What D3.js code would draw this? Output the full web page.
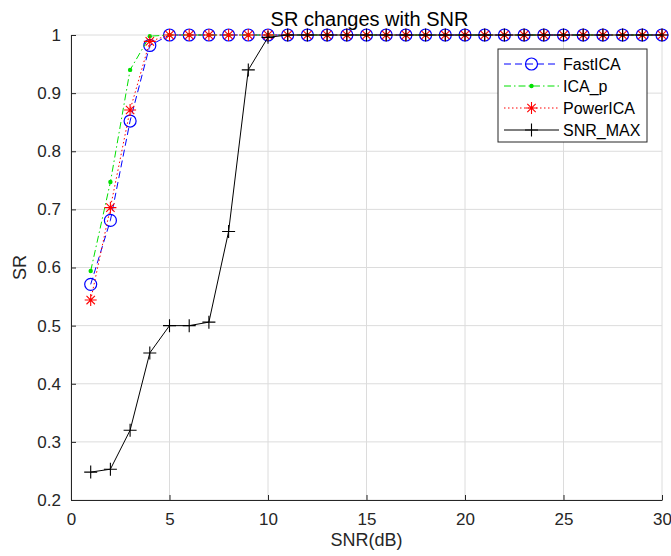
<!DOCTYPE html>
<html>
<head>
<meta charset="utf-8">
<title>SR changes with SNR</title>
<script src="https://d3js.org/d3.v7.min.js"></script>
<style>
  body { margin: 0; background: #fff; }
  svg { font-family: "Liberation Sans", Arial, sans-serif; }
</style>
</head>
<body>
<svg id="chart" width="671" height="556"></svg>
<script>
// data
const snr = d3.range(1, 31)
const fastICA = [0.571, 0.681, 0.852, 0.982].concat(d3.range(26).map(() => 1))
const icaP = [0.594, 0.747, 0.940, 0.998].concat(d3.range(26).map(() => 1))
const powerICA = [0.544, 0.703, 0.871, 0.989].concat(d3.range(26).map(() => 1))
const snrMax = [0.248, 0.253, 0.320, 0.453, 0.500, 0.500, 0.506, 0.662, 0.940, 0.996].concat(d3.range(20).map(() => 1))
const xTicks = [0, 5, 10, 15, 20, 25, 30]
const yTicks = [0.2, 0.3, 0.4, 0.5, 0.6, 0.7, 0.8, 0.9, 1]

const series = [
  { name: "FastICA", values: fastICA, color: "#0000ff", dash: "7,4", marker: "circle" },
  { name: "ICA_p", values: icaP, color: "#00e000", dash: "7,3,1.5,3", marker: "dot" },
  { name: "PowerICA", values: powerICA, color: "#ff0000", dash: "1.5,2.5", marker: "star" },
  { name: "SNR_MAX", values: snrMax, color: "#000000", dash: null, marker: "plus" }
]

const svg = d3.select("#chart")
const margin = { top: 35, left: 71, right: 9, bottom: 56 }
const width = +svg.attr("width") - margin.left - margin.right
const height = +svg.attr("height") - margin.top - margin.bottom
const axisColor = "#262626"

const x = d3.scaleLinear().domain([0, 30]).range([0, width])
const y = d3.scaleLinear().domain([0.2, 1]).range([height, 0])

const g = svg.append("g").attr("transform", `translate(${margin.left},${margin.top})`)

// grid
g.append("g").selectAll("line").data(xTicks).join("line")
  .attr("x1", d => x(d)).attr("x2", d => x(d))
  .attr("y1", 0).attr("y2", height)
  .attr("stroke", "#dcdcdc").attr("stroke-width", 1)
g.append("g").selectAll("line").data(yTicks).join("line")
  .attr("x1", 0).attr("x2", width)
  .attr("y1", d => y(d)).attr("y2", d => y(d))
  .attr("stroke", "#dcdcdc").attr("stroke-width", 1)

// axes (ticks inward)
const xAxis = d3.axisBottom(x).tickValues(xTicks).tickSizeInner(-5).tickSizeOuter(0).tickPadding(13)
const yAxis = d3.axisLeft(y).tickValues(yTicks).tickSizeInner(-5).tickSizeOuter(0).tickPadding(10)
  .tickFormat(d => d === 1 ? "1" : d3.format(".1f")(d))

const gx = g.append("g").attr("transform", `translate(0,${height})`).call(xAxis)
const gy = g.append("g").call(yAxis)
for (const a of [gx, gy]) {
  a.select(".domain").attr("stroke", axisColor)
  a.selectAll(".tick line").attr("stroke", axisColor)
  a.selectAll(".tick text").attr("fill", axisColor).attr("font-size", 17)
    .attr("font-family", "Liberation Sans, Arial, sans-serif")
}

// markers
function drawMarker(sel, type, color) {
  if (type === "circle") {
    sel.append("circle").attr("r", 6).attr("fill", "none").attr("stroke", color).attr("stroke-width", 1.2)
  } else if (type === "dot") {
    sel.append("circle").attr("r", 2.2).attr("fill", color)
  } else if (type === "star") {
    const s = 6
    sel.append("path")
      .attr("d", `M${-s},0H${s}M0,${-s}V${s}M${-s * 0.7},${-s * 0.7}L${s * 0.7},${s * 0.7}M${-s * 0.7},${s * 0.7}L${s * 0.7},${-s * 0.7}`)
      .attr("stroke", color).attr("stroke-width", 1.1).attr("fill", "none")
  } else if (type === "plus") {
    const s = 6.5
    sel.append("path").attr("d", `M${-s},0H${s}M0,${-s}V${s}`)
      .attr("stroke", color).attr("stroke-width", 1.1).attr("fill", "none")
  }
}

const line = d3.line().x(d => x(d[0])).y(d => y(d[1]))

series.forEach(s => {
  const pts = snr.map((v, i) => [v, s.values[i]])
  g.append("path").datum(pts)
    .attr("d", line)
    .attr("fill", "none")
    .attr("stroke", s.color)
    .attr("stroke-width", 1)
    .attr("stroke-dasharray", s.dash)
  g.append("g").selectAll("g").data(pts).join("g")
    .attr("transform", d => `translate(${x(d[0])},${y(d[1])})`)
    .each(function () { drawMarker(d3.select(this), s.marker, s.color) })
})

// title and labels
svg.append("text").attr("x", margin.left + width / 2 + 3).attr("y", 26)
  .attr("text-anchor", "middle").attr("font-size", 20).attr("fill", "#000")
  .text("SR changes with SNR")
svg.append("text").attr("x", margin.left + width / 2).attr("y", 546)
  .attr("text-anchor", "middle").attr("font-size", 18).attr("fill", axisColor)
  .text("SNR(dB)")
svg.append("text").attr("transform", `translate(26,${margin.top + height / 2}) rotate(-90)`)
  .attr("text-anchor", "middle").attr("font-size", 18).attr("fill", axisColor)
  .text("SR")

// legend
const lg = svg.append("g").attr("transform", "translate(498,49)")
lg.append("rect").attr("width", 149).attr("height", 93)
  .attr("fill", "#fff").attr("stroke", axisColor).attr("stroke-width", 1)
series.forEach((s, i) => {
  const row = lg.append("g").attr("transform", `translate(0,${15 + i * 22})`)
  row.append("line").attr("x1", 6).attr("x2", 61)
    .attr("stroke", s.color).attr("stroke-width", 1).attr("stroke-dasharray", s.dash)
  drawMarker(row.append("g").attr("transform", "translate(33.5,0)"), s.marker, s.color)
  row.append("text").attr("x", 65).attr("y", 0).attr("dy", "0.35em")
    .attr("font-size", 16).attr("fill", "#000").text(s.name)
})
</script>
</body>
</html>
